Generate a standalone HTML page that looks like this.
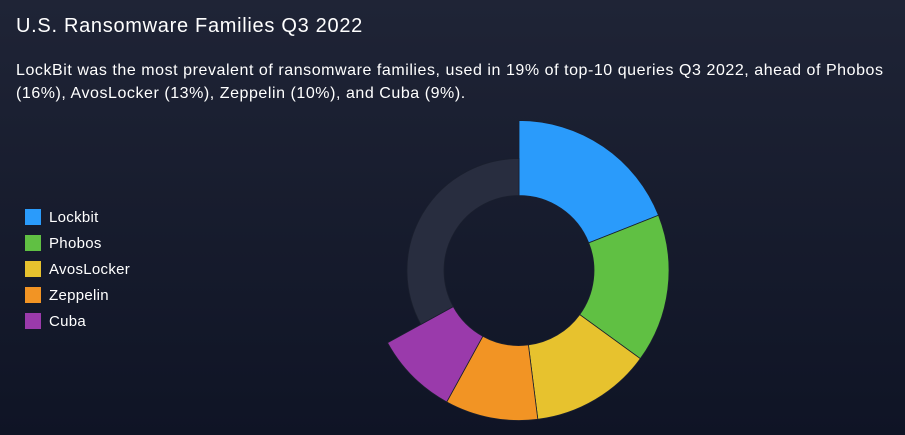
<!DOCTYPE html>
<html><head><meta charset="utf-8"><style>
html,body{margin:0;padding:0}
body{width:905px;height:435px;overflow:hidden;background:linear-gradient(#1f2436,#0f1425);font-family:"Liberation Sans",sans-serif;color:#fff;position:relative}
.t{position:absolute;left:16px;top:15px;font-size:20px;letter-spacing:0.7px}
.s{position:absolute;left:16px;top:59px;font-size:16px;line-height:23px;width:895px;letter-spacing:0.55px;white-space:nowrap}
.lg{position:absolute;left:25px;font-size:15px;letter-spacing:0.3px}
.lg i{display:inline-block;width:16px;height:16px;vertical-align:-3px;margin-right:8px}
</style></head><body>
<div class="t">U.S. Ransomware Families Q3 2022</div>
<div class="s">LockBit was the most prevalent of ransomware families, used in 19% of top-10 queries Q3 2022, ahead of Phobos<br>(16%), AvosLocker (13%), Zeppelin (10%), and Cuba (9%).</div>
<div class="lg" style="top:209px"><i style="background:#2a9bfb"></i>Lockbit</div>
<div class="lg" style="top:235px"><i style="background:#60c043"></i>Phobos</div>
<div class="lg" style="top:261px"><i style="background:#e7c22e"></i>AvosLocker</div>
<div class="lg" style="top:287px"><i style="background:#f29424"></i>Zeppelin</div>
<div class="lg" style="top:313px"><i style="background:#9a3aab"></i>Cuba</div>
<svg id="c" width="905" height="435" style="position:absolute;left:0;top:0"></svg>
<script>
var cx=519,cy=270.5,ri=75;
var segs=[[0,68.4,150,"#2a9bfb"],[68.4,126,150,"#60c043"],[126,172.8,150,"#e7c22e"],[172.8,208.8,150,"#f29424"],[208.8,241.2,150,"#9a3aab"],[241.2,360,112,"#282d3f"]];
function p(r,a){a=a*Math.PI/180;return (cx+r*Math.sin(a)).toFixed(2)+","+(cy-r*Math.cos(a)).toFixed(2);}
var h="";
segs.forEach(function(s){var l=(s[1]-s[0])>180?1:0;
h+='<path d="M'+p(s[2],s[0])+' A'+s[2]+','+s[2]+' 0 '+l+' 1 '+p(s[2],s[1])+' L'+p(ri,s[1])+' A'+ri+','+ri+' 0 '+l+' 0 '+p(ri,s[0])+' Z" fill="'+s[3]+'" stroke="#1a1f2e" stroke-width="0.8"/>';});
document.getElementById("c").innerHTML=h;
</script>
</body></html>
